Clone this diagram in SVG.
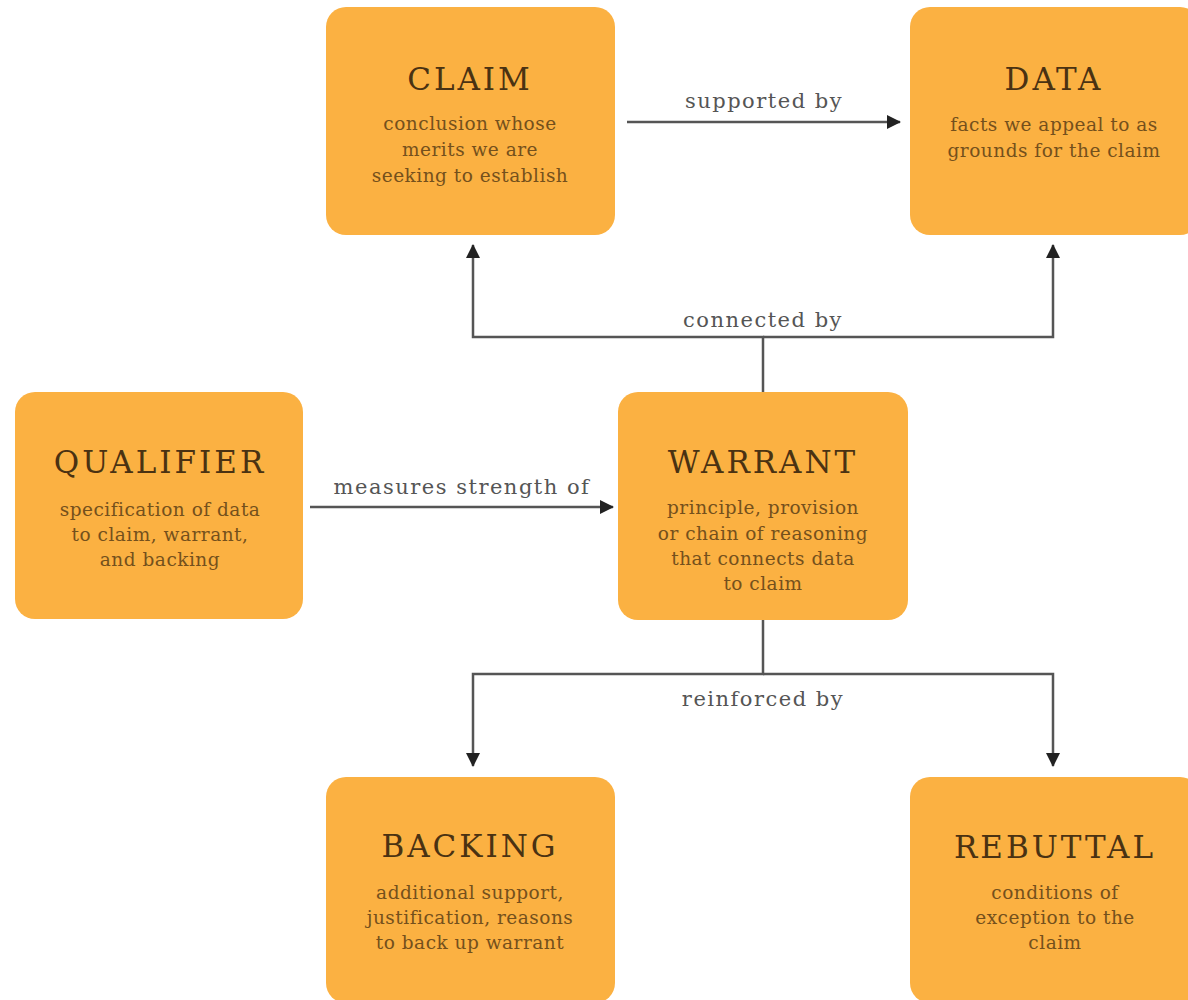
<svg xmlns="http://www.w3.org/2000/svg" width="1188" height="1000" viewBox="0 0 1188 1000">
<defs>
<marker id="arr" markerUnits="userSpaceOnUse" markerWidth="14" markerHeight="14" viewBox="0 0 14 14" refX="13" refY="7" orient="auto">
<path d="M0,0 L14,7 L0,14 Z" fill="#222"/>
</marker>
<style>
.box{fill:#FBB142;}
.title{font-family:"DejaVu Serif","Liberation Serif",serif;font-size:31px;fill:#4a3212;text-anchor:middle;letter-spacing:3px;}
.body{font-family:"DejaVu Serif","Liberation Serif",serif;font-size:18.5px;fill:#74501c;text-anchor:middle;letter-spacing:0.5px;}
.lbl{font-family:"DejaVu Serif","Liberation Serif",serif;font-size:21px;fill:#555;text-anchor:middle;letter-spacing:1.5px;}
.ln{fill:none;stroke:#555;stroke-width:2.5;}
</style>
</defs>
<rect width="1188" height="1000" fill="#fff"/>
<g id="connectors">
<path class="ln" d="M627,122 H900" marker-end="url(#arr)"/>
<path class="ln" d="M310,507 H613" marker-end="url(#arr)"/>
<path class="ln" d="M763,392 V337 H473 V245" marker-end="url(#arr)"/>
<path class="ln" d="M763,337 H1053 V245" marker-end="url(#arr)"/>
<path class="ln" d="M763,620 V674 H473 V766" marker-end="url(#arr)"/>
<path class="ln" d="M763,674 H1053 V766" marker-end="url(#arr)"/>
<text class="lbl" x="764" y="108">supported by</text>
<text class="lbl" x="763" y="327">connected by</text>
<text class="lbl" x="462" y="494">measures strength of</text>
<text class="lbl" x="763" y="706">reinforced by</text>
</g>
<g id="claim">
<rect class="box" x="326" y="7" width="289" height="228" rx="20"/>
<text class="title" x="470" y="90">CLAIM</text>
<text class="body" x="470" y="130">conclusion whose</text>
<text class="body" x="470" y="156">merits we are</text>
<text class="body" x="470" y="182">seeking to establish</text>
</g>
<g id="data">
<rect class="box" x="910" y="7" width="290" height="228" rx="20"/>
<text class="title" x="1054" y="90">DATA</text>
<text class="body" x="1054" y="131">facts we appeal to as</text>
<text class="body" x="1054" y="157">grounds for the claim</text>
</g>
<g id="qualifier">
<rect class="box" x="15" y="392" width="288" height="227" rx="20"/>
<text class="title" x="160" y="473">QUALIFIER</text>
<text class="body" x="160" y="516">specification of data</text>
<text class="body" x="160" y="541">to claim, warrant,</text>
<text class="body" x="160" y="566">and backing</text>
</g>
<g id="warrant">
<rect class="box" x="618" y="392" width="290" height="228" rx="20"/>
<text class="title" x="763" y="473">WARRANT</text>
<text class="body" x="763" y="514">principle, provision</text>
<text class="body" x="763" y="540">or chain of reasoning</text>
<text class="body" x="763" y="565">that connects data</text>
<text class="body" x="763" y="590">to claim</text>
</g>
<g id="backing">
<rect class="box" x="326" y="777" width="289" height="226" rx="20"/>
<text class="title" x="470" y="857">BACKING</text>
<text class="body" x="470" y="899">additional support,</text>
<text class="body" x="470" y="924">justification, reasons</text>
<text class="body" x="470" y="949">to back up warrant</text>
</g>
<g id="rebuttal">
<rect class="box" x="910" y="777" width="290" height="226" rx="20"/>
<text class="title" x="1055" y="858">REBUTTAL</text>
<text class="body" x="1055" y="899">conditions of</text>
<text class="body" x="1055" y="924">exception to the</text>
<text class="body" x="1055" y="949">claim</text>
</g>
</svg>
